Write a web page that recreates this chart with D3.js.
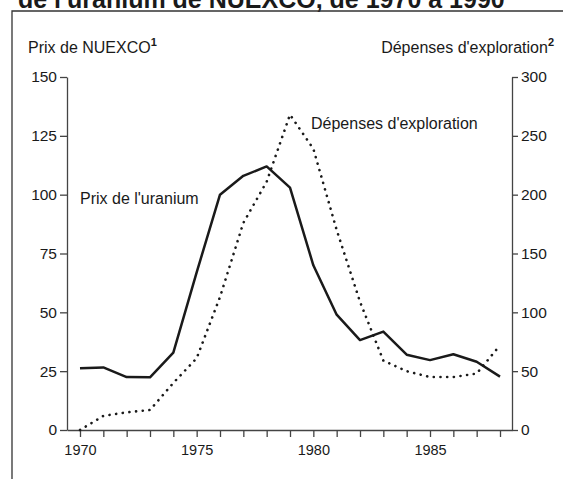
<!DOCTYPE html>
<html>
<head>
<meta charset="utf-8">
<script src="https://cdn.jsdelivr.net/npm/d3@7"></script>
<style>
  body { margin: 0; background: #fff; }
  text { font-family: "Liberation Sans", Arial, sans-serif; fill: #1a1a1a; }
</style>
</head>
<body>
<div id="chart-area"></div>
<script>
// uranium price (NUEXCO) vs exploration spending, 1970-1988
let years = d3.range(1970, 1989);
let prixUranium = [26.2, 26.6, 22.5, 22.4, 32.9, 67, 100, 108, 112, 103, 70, 49, 38.2, 41.8, 32, 29.7, 32.2, 29, 22.7];
let depensesExpl = [0, 12, 15, 17, 40, 61, 113, 176, 211, 268, 239, 170, 109, 59, 50, 45, 45, 48, 72];
let leftTicks = [0, 25, 50, 75, 100, 125, 150];
let rightTicks = [0, 50, 100, 150, 200, 250, 300];
let yearLabels = [1970, 1975, 1980, 1985];

let W = 563, H = 479;
let margin = { left: 67, top: 77, right: 51, bottom: 49 };
let width = W - margin.left - margin.right;
let height = H - margin.top - margin.bottom;

let svg = d3.select("#chart-area")
	.append("svg")
	.attr("width", W)
	.attr("height", H);

svg.append("rect").attr("width", W).attr("height", H).attr("fill", "#fff");

// title, cut off by the top edge
svg.append("text")
	.attr("x", 18)
	.attr("y", 8)
	.attr("font-size", "25px")
	.attr("font-weight", "bold")
	.text("de l'uranium de NUEXCO, de 1970 à 1990");

// frame
svg.append("path")
	.attr("d", "M12,479 L12,11 L563,11")
	.attr("fill", "none")
	.attr("stroke", "#333")
	.attr("stroke-width", 1.3);

let g = svg.append("g")
	.attr("transform", `translate(${margin.left}, ${margin.top})`);

let x = d3.scaleLinear()
	.domain([1969.443, 1988.514])
	.range([0, width]);

let yLeft = d3.scaleLinear()
	.domain([0, 150])
	.range([height, 0]);

let yRight = d3.scaleLinear()
	.domain([0, 300])
	.range([height, 0]);

// x axis: a tick every year, labels every 5
let xAxisCall = d3.axisBottom(x)
	.tickValues(years)
	.tickSize(7)
	.tickSizeOuter(0)
	.tickFormat(d => yearLabels.includes(d) ? d : "");
let xAxis = g.append("g")
	.attr("transform", `translate(0, ${height})`)
	.call(xAxisCall);

let yAxisL = g.append("g")
	.call(d3.axisLeft(yLeft).tickValues(leftTicks).tickSize(7).tickSizeOuter(0).tickPadding(3));

let yAxisR = g.append("g")
	.attr("transform", `translate(${width}, 0)`)
	.call(d3.axisRight(yRight).tickValues(rightTicks).tickSize(6).tickSizeOuter(0).tickPadding(3));

g.selectAll(".domain, .tick line")
	.attr("stroke", "#444")
	.attr("stroke-width", 1.3);
g.selectAll(".tick text")
	.attr("font-size", "15.5px")
	.attr("font-family", "Liberation Sans, Arial, sans-serif")
	.attr("fill", "#1a1a1a");
xAxis.selectAll(".tick text")
	.attr("font-size", "14.5px")
	.attr("dy", "1.0em");

// header labels
let hl = svg.append("text")
	.attr("x", 28)
	.attr("y", 53)
	.attr("font-size", "16px");
hl.append("tspan").text("Prix de NUEXCO");
hl.append("tspan").attr("font-size", "11px").attr("font-weight", "bold").attr("dy", -7).text("1");

let hr = svg.append("text")
	.attr("x", 554)
	.attr("y", 53)
	.attr("text-anchor", "end")
	.attr("font-size", "16px");
hr.append("tspan").text("Dépenses d'exploration");
hr.append("tspan").attr("font-size", "11px").attr("font-weight", "bold").attr("dy", -7).text("2");

// lines
let linePrix = d3.line()
	.x((d, i) => x(years[i]))
	.y(d => yLeft(d));

let lineExpl = d3.line()
	.x((d, i) => x(years[i]))
	.y(d => yRight(d));

g.append("path")
	.datum(depensesExpl)
	.attr("d", lineExpl)
	.attr("fill", "none")
	.attr("stroke", "#1a1a1a")
	.attr("stroke-width", 2.6)
	.attr("stroke-linecap", "round")
	.attr("stroke-dasharray", "0.1 6.6");

g.append("path")
	.datum(prixUranium)
	.attr("d", linePrix)
	.attr("fill", "none")
	.attr("stroke", "#1a1a1a")
	.attr("stroke-width", 2.5)
	.attr("stroke-linejoin", "round");

// inline series labels
g.append("text")
	.attr("x", 80 - margin.left)
	.attr("y", 204 - margin.top)
	.attr("font-size", "16px")
	.text("Prix de l'uranium");

g.append("text")
	.attr("x", 311 - margin.left)
	.attr("y", 129 - margin.top)
	.attr("font-size", "16px")
	.text("Dépenses d'exploration");
</script>
</body>
</html>
